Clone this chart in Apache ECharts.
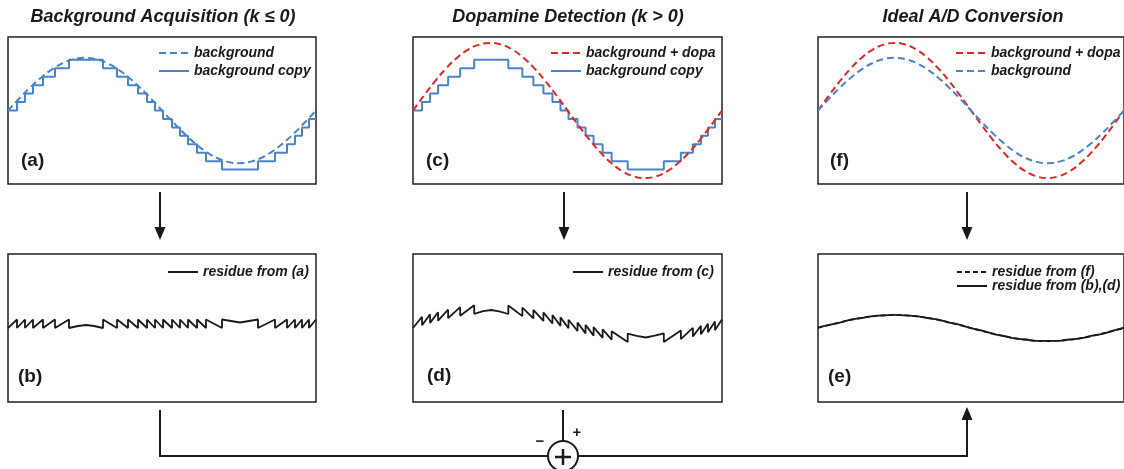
<!DOCTYPE html>
<html><head><meta charset="utf-8">
<script src="https://cdn.jsdelivr.net/npm/echarts@6/dist/echarts.min.js"></script>
<style>html,body{margin:0;padding:0;background:#fff}#c{width:1124px;height:469px}</style>
</head><body><div id="c"></div>
<script>
// ---- data (x in panel units 0..308, y centred on 0) ----
const curveX = [0,11,22,33,44,55,66,77,88,99,110,121,132,143,154,165,176,187,198,209,220,231,242,253,264,275,286,297,308];
const background = [0,11.8,23.0,33.0,41.4,47.8,51.7,53.0,51.7,47.8,41.4,33.0,23.0,11.8,0,-11.8,-23.0,-33.0,-41.4,-47.8,-51.7,-53.0,-51.7,-47.8,-41.4,-33.0,-23.0,-11.8,0];
const backgroundDopa = [0,15.1,29.5,42.4,53.2,61.3,66.3,68.0,66.3,61.3,53.2,42.4,29.5,15.1,0,-15.1,-29.5,-42.4,-53.2,-61.3,-66.3,-68.0,-66.3,-61.3,-53.2,-42.4,-29.5,-15.1,0];
const copyX = [0,9,17,25,35,47,61,95,109,120,130,139,147,155,164,172,180,189,198,214,250,267,279,287,294,301,308];
const copyLevel = [0,8.5,17,25.5,34,42.5,51,42.5,34,25.5,17,8.5,0,-8.5,-17,-25.5,-34,-42.5,-51,-59.5,-51,-42.5,-34,-25.5,-17,-8.5,-8.5];
const residueX = [0,9,9,17,17,25,25,35,35,47,47,61,61,70,78,86,95,95,109,109,120,120,130,130,139,139,147,147,155,155,164,164,172,172,180,180,189,189,198,198,214,214,223,232,241,250,250,267,267,279,279,287,287,294,294,301,301,308];
const residueA = [0,8.5,0,8.5,0,8.5,0,8.5,0,8.5,0,8.5,0,2,3,2,0,8.5,0,8.5,0,8.5,0,8.5,0,8.5,0,8.5,0,8.5,0,8.5,0,8.5,0,8.5,0,8.5,0,8.5,0,8.5,7,5.5,7,8.5,0,8.5,0,8.5,0,8.5,0,8.5,0,8.5,0,8.5];
const residueC = [0,11.2,2.7,13.6,5.1,15.8,7.3,18.3,9.8,20.8,12.3,22.7,14.2,16.8,18.0,16.7,14.0,22.5,11.9,20.4,9.6,18.1,7.1,15.6,4.5,13.0,2.1,10.6,-0.3,8.2,-3.0,5.5,-5.4,3.1,-7.6,0.9,-9.8,-1.3,-11.7,-3.2,-14.1,-5.6,-7.8,-9.5,-7.7,-5.4,-13.9,-2.6,-11.1,0.1,-8.4,2.3,-6.2,4.3,-4.2,6.4,-2.1,8.5];
const residueF = [0,2.9,5.6,8.1,10.2,11.7,12.7,13,12.7,11.7,10.2,8.1,5.6,2.9,0,-2.9,-5.6,-8.1,-10.2,-11.7,-12.7,-13,-12.7,-11.7,-10.2,-8.1,-5.6,-2.9,0];
const residueBD = [0.5,3.2,5.4,8.4,10.0,11.9,12.5,13.2,12.6,11.9,10.0,8.3,5.4,3.1,-0.2,-2.7,-5.8,-8.0,-10.4,-11.5,-12.9,-12.8,-12.8,-11.5,-10.4,-7.9,-5.8,-2.7,0.3];
const titles = ['Background Acquisition (k \u2264 0)', 'Dopamine Detection (k > 0)', 'Ideal A/D Conversion'];
const panelLabels = ['(a)', '(c)', '(f)', '(b)', '(d)', '(e)'];

// ---- styling / layout ----
const FONT = '"Liberation Sans", Arial, Helvetica, sans-serif';
const BLUE = '#4a84c6', RED = '#e42528', INK = '#1a1a1a';
const grids = [
  {left: 8, top: 37, width: 308, height: 147},
  {left: 413, top: 37, width: 309, height: 147},
  {left: 818, top: 37, width: 309, height: 147},
  {left: 8, top: 254, width: 308, height: 148},
  {left: 413, top: 254, width: 309, height: 148},
  {left: 818, top: 254, width: 309, height: 148}
].map(g => Object.assign(g, {show: true, borderColor: '#222', borderWidth: 1.5, backgroundColor: 'transparent'}));

const xAxes = grids.map((g, i) => ({type: 'value', gridIndex: i, min: 0, max: 308, show: false}));
const yAxes = grids.map((g, i) => ({type: 'value', gridIndex: i, min: -74, max: 74, show: false}));

const pair = (xs, ys) => xs.map((x, i) => [x, ys[i]]);
function lineSeries(name, idx, data, color, type, extra) {
  return Object.assign({
    name, type: 'line', xAxisIndex: idx, yAxisIndex: idx, data,
    symbol: 'none', animation: false, silent: true,
    lineStyle: {color, width: 2, type}, itemStyle: {color}
  }, extra || {});
}
const series = [
  lineSeries('background', 0, pair(curveX, background), BLUE, [7, 4], {smooth: true}),
  lineSeries('background copy', 0, pair(copyX, copyLevel), BLUE, 'solid', {step: 'end'}),
  lineSeries('background copy', 1, pair(copyX, copyLevel), BLUE, 'solid', {step: 'end'}),
  lineSeries('background + dopa', 1, pair(curveX, backgroundDopa), RED, [7, 4], {smooth: true}),
  lineSeries('background + dopa', 2, pair(curveX, backgroundDopa), RED, [7, 4], {smooth: true}),
  lineSeries('background', 2, pair(curveX, background), BLUE, [7, 4], {smooth: true}),
  lineSeries('residue from (a)', 3, pair(residueX, residueA), INK, 'solid', {lineStyle: {color: INK, width: 1.8}}),
  lineSeries('residue from (c)', 4, pair(residueX, residueC), INK, 'solid', {lineStyle: {color: INK, width: 1.8}}),
  lineSeries('residue from (f)', 5, pair(curveX, residueF), INK, [5, 3], {smooth: true, lineStyle: {color: INK, width: 1.8, type: [5, 3]}}),
  lineSeries('residue from (b),(d)', 5, pair(curveX, residueBD), INK, 'solid', {smooth: true, lineStyle: {color: INK, width: 1.8}})
];

const legendText = {fontSize: 14, fontWeight: 'bold', fontStyle: 'italic', color: INK, fontFamily: FONT, lineHeight: 16};
const legendBase = {orient: 'vertical', itemWidth: 30, itemHeight: 10, itemGap: 2, padding: 0, selectedMode: false,
  itemStyle: {opacity: 0}, textStyle: legendText};
const legends = [
  {left: 158, top: 45, data: ['background', 'background copy']},
  {left: 550, top: 45, data: ['background + dopa', 'background copy']},
  {left: 955, top: 45, data: ['background + dopa', 'background']},
  {left: 167, top: 264, data: ['residue from (a)']},
  {left: 572, top: 264, data: ['residue from (c)']},
  {left: 956, top: 265, itemGap: 0, textStyle: Object.assign({}, legendText, {lineHeight: 12}), data: ['residue from (f)', 'residue from (b),(d)']}
].map(l => Object.assign({}, legendBase, l));

const titleCenters = [163, 568, 973];
const titleOpts = titles.map((t, i) => ({
  text: t, left: titleCenters[i], top: 8, textAlign: 'center', padding: 0,
  textStyle: {fontSize: 18, fontWeight: 'bold', fontStyle: 'italic', fontFamily: FONT, color: INK}
}));

const labelPos = [[21, 161], [426, 161], [830, 161], [18, 377], [427, 376], [828, 377]];
const graphic = [];
panelLabels.forEach((t, i) => graphic.push({
  type: 'text', x: labelPos[i][0], y: labelPos[i][1],
  style: {text: t, font: 'bold 19px ' + FONT, fill: INK, align: 'left', verticalAlign: 'middle'}
}));
const stroke = {stroke: INK, lineWidth: 2};
function vline(x, y1, y2) { graphic.push({type: 'line', shape: {x1: x, y1, x2: x, y2}, style: stroke}); }
function hline(y, x1, x2) { graphic.push({type: 'line', shape: {x1, y1: y, x2, y2: y}, style: stroke}); }
function head(x, tip, dir) { graphic.push({type: 'polygon', shape: {points: [[x - 5.5, tip - dir * 13], [x + 5.5, tip - dir * 13], [x, tip]]}, style: {fill: INK}}); }
// down arrows between rows
[160, 564, 967].forEach(x => { vline(x, 192, 229); head(x, 240, 1); });
// summing loop
vline(160, 410, 457); hline(456, 160, 548);
vline(563, 410, 441);
hline(456, 578, 967); vline(967, 457, 420); head(967, 407, -1);
graphic.push({type: 'circle', shape: {cx: 563, cy: 456, r: 15}, style: {fill: '#fff', stroke: INK, lineWidth: 2}});
graphic.push({type: 'line', shape: {x1: 555, y1: 457, x2: 571, y2: 457}, style: {stroke: INK, lineWidth: 2.5}});
graphic.push({type: 'line', shape: {x1: 563, y1: 449, x2: 563, y2: 465}, style: {stroke: INK, lineWidth: 2.5}});
graphic.push({type: 'text', x: 577, y: 433, style: {text: '+', font: 'bold 15px ' + FONT, fill: INK, align: 'center', verticalAlign: 'middle'}});
graphic.push({type: 'text', x: 540, y: 442, style: {text: '\u2212', font: 'bold 15px ' + FONT, fill: INK, align: 'center', verticalAlign: 'middle'}});

const chart = echarts.init(document.getElementById('c'), null, {renderer: 'canvas'});
chart.setOption({
  backgroundColor: '#fff', animation: false,
  title: titleOpts, legend: legends, grid: grids, xAxis: xAxes, yAxis: yAxes,
  series, graphic
});
</script></body></html>
